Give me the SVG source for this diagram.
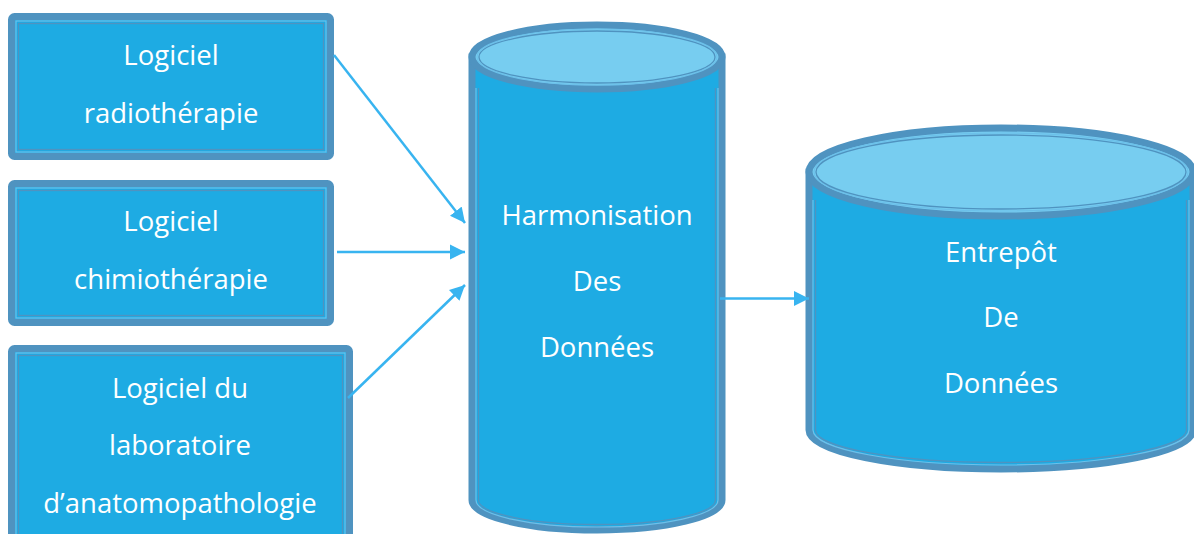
<svg xmlns="http://www.w3.org/2000/svg" width="1194" height="534" viewBox="0 0 1194 534">
<defs>
<style>
.box{fill:#1eabe3;stroke:#4f93c0;stroke-width:7}
.lt{fill:none;stroke:#6cc0ea;stroke-width:1.2}
.dk{fill:none;stroke:#4f93c0;stroke-width:1.3}
.top{fill:#77cdf0;stroke:#4f93c0;stroke-width:7}
.t{font-family:"Open Sans","Liberation Sans",sans-serif;font-size:27.5px;fill:#ffffff;text-anchor:middle}
.c{stroke:#38b4f0;stroke-width:2.5;fill:none}
</style>
<marker id="ah" viewBox="0 0 10 10" refX="10" refY="5" markerWidth="6" markerHeight="6.4" markerUnits="strokeWidth" orient="auto">
<path d="M0,0 L10,5 L0,10 Z" fill="#38b4f0"/>
</marker>
</defs>
<rect width="1194" height="534" fill="#ffffff"/>
<g id="node-radio">
<rect class="box" x="11.5" y="16.5" width="319" height="140" rx="3"/>
<rect class="lt" x="16" y="21" width="310" height="131"/>
<rect class="dk" x="18.5" y="23.5" width="305" height="126"/>
<text class="t" x="171" y="65">Logiciel</text>
<text class="t" x="171" y="123">radiothérapie</text>
</g>
<g id="node-chimio">
<rect class="box" x="11.5" y="183.5" width="319" height="139" rx="3"/>
<rect class="lt" x="16" y="188" width="310" height="130"/>
<rect class="dk" x="18.5" y="190.5" width="305" height="125"/>
<text class="t" x="171" y="231">Logiciel</text>
<text class="t" x="171" y="289">chimiothérapie</text>
</g>
<g id="node-anapath">
<rect class="box" x="11.5" y="348.5" width="338" height="200" rx="3"/>
<rect class="lt" x="16" y="353" width="329" height="190"/>
<rect class="dk" x="18.5" y="355.5" width="324" height="185"/>
<text class="t" x="180" y="398">Logiciel du</text>
<text class="t" x="180" y="455">laboratoire</text>
<text class="t" x="180" y="513">d’anatomopathologie</text>
</g>
<g id="node-harmonisation">
<path class="box" d="M472,57 L472,500 A125,30 0 0 0 722,500 L722,57 Z"/>
<path class="lt" d="M476,88 L476,500 A121,27 0 0 0 718,500 L718,88"/>
<path class="dk" d="M478.5,88 L478.5,500 A118.5,24.5 0 0 0 715.5,500 L715.5,88"/>
<ellipse class="top" cx="597" cy="57" rx="125" ry="32"/>
<ellipse class="lt" cx="597" cy="57" rx="120" ry="28"/>
<ellipse class="dk" cx="597" cy="57" rx="118" ry="26"/>
<text class="t" x="597" y="225">Harmonisation</text>
<text class="t" x="597" y="291">Des</text>
<text class="t" x="597" y="357">Données</text>
</g>
<g id="node-entrepot">
<path class="box" d="M809,172 L809,430 A192,39 0 0 0 1193,430 L1193,172 Z"/>
<path class="lt" d="M813,200 L813,430 A188,35 0 0 0 1189,430 L1189,200"/>
<path class="dk" d="M815.5,200 L815.5,430 A185.5,32.5 0 0 0 1186.5,430 L1186.5,200"/>
<ellipse class="top" cx="1001" cy="172" rx="192" ry="44"/>
<ellipse class="lt" cx="1001" cy="172" rx="187" ry="39"/>
<ellipse class="dk" cx="1001" cy="172" rx="185" ry="37"/>
<text class="t" x="1001" y="262">Entrepôt</text>
<text class="t" x="1001" y="327">De</text>
<text class="t" x="1001" y="393">Données</text>
</g>
<g id="connectors">
<line class="c" x1="334" y1="55" x2="465" y2="223" marker-end="url(#ah)"/>
<line class="c" x1="337" y1="252" x2="465" y2="252" marker-end="url(#ah)"/>
<line class="c" x1="348" y1="398" x2="465" y2="285" marker-end="url(#ah)"/>
<line class="c" x1="720" y1="298.5" x2="809" y2="298.5" marker-end="url(#ah)"/>
</g>
</svg>
